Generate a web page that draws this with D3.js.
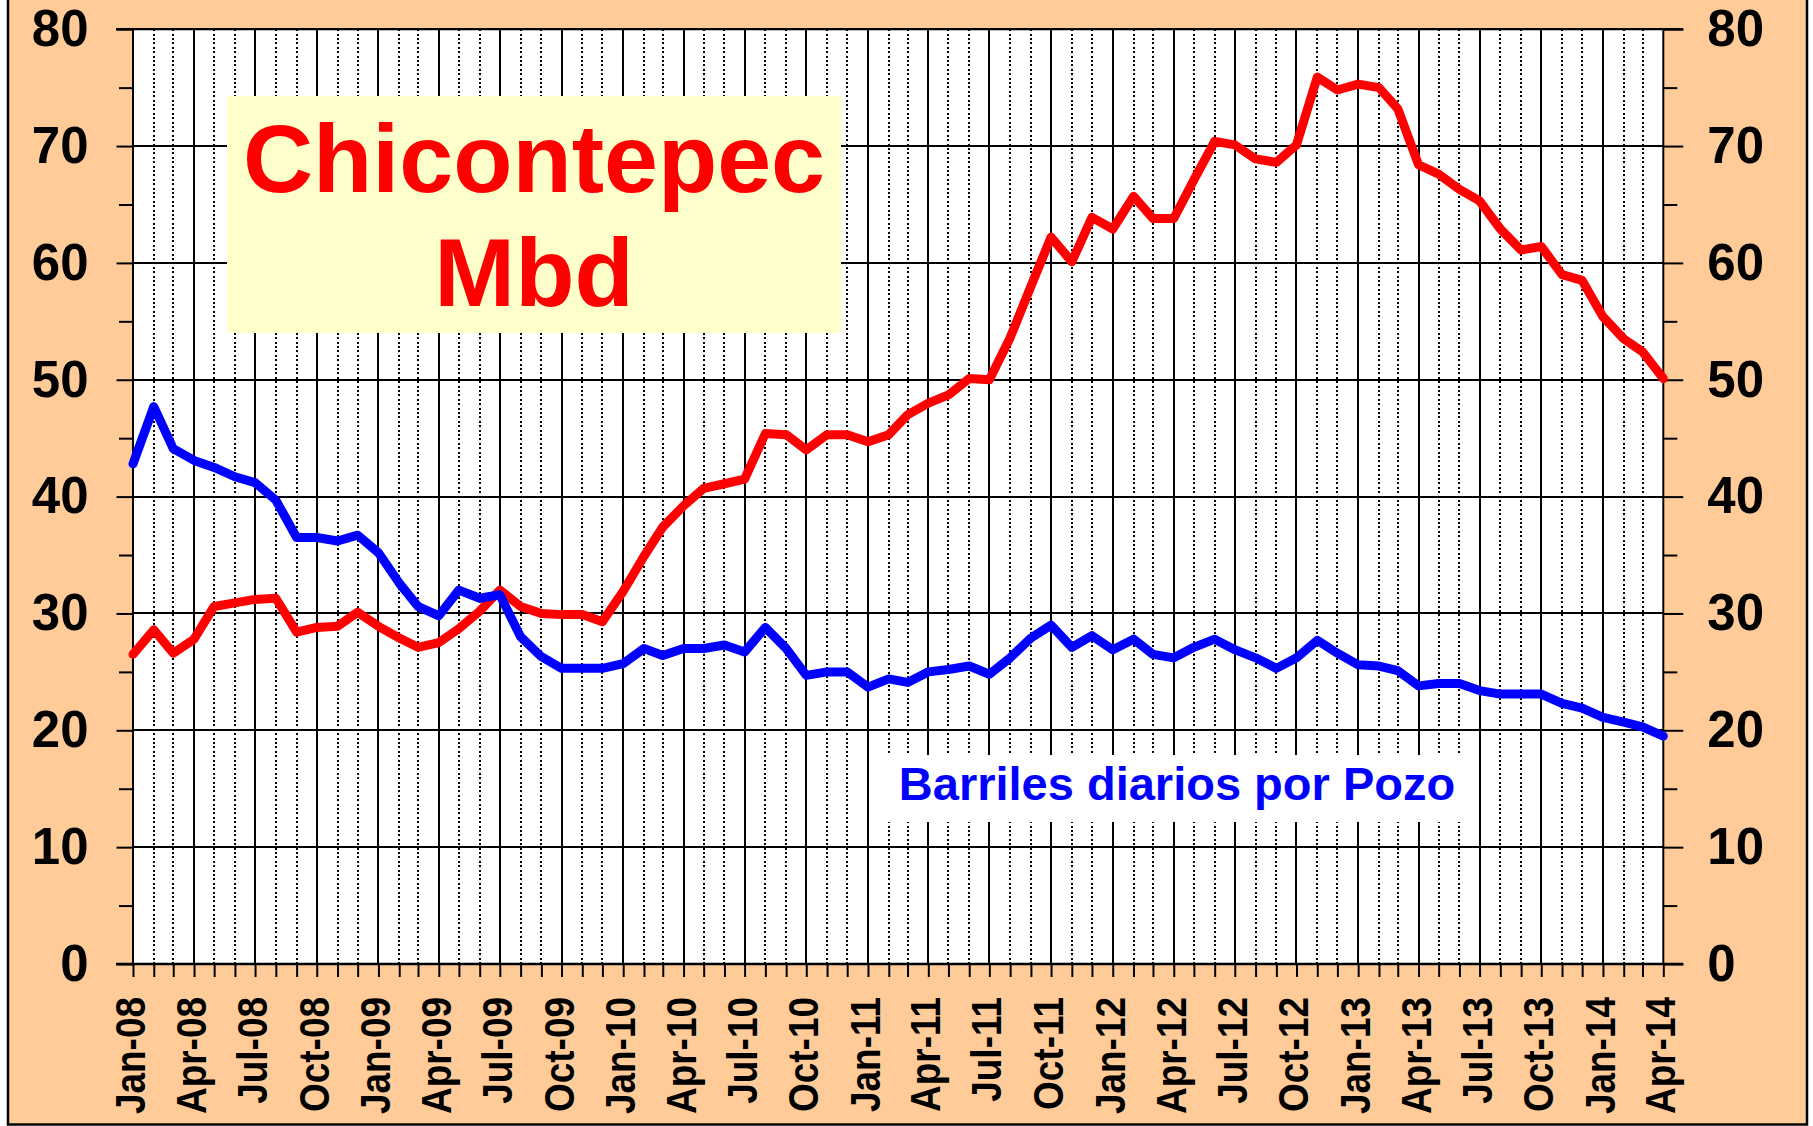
<!DOCTYPE html>
<html><head><meta charset="utf-8">
<script src="https://cdn.jsdelivr.net/npm/d3@7"></script>
<style>body{margin:0;background:#fff}svg{display:block}</style>
</head><body><svg id="c" width="1813" height="1126"></svg>
<script>
// ---- data ----
const months = [
 "2008-01","2008-02","2008-03","2008-04","2008-05","2008-06","2008-07","2008-08","2008-09","2008-10","2008-11","2008-12",
 "2009-01","2009-02","2009-03","2009-04","2009-05","2009-06","2009-07","2009-08","2009-09","2009-10","2009-11","2009-12",
 "2010-01","2010-02","2010-03","2010-04","2010-05","2010-06","2010-07","2010-08","2010-09","2010-10","2010-11","2010-12",
 "2011-01","2011-02","2011-03","2011-04","2011-05","2011-06","2011-07","2011-08","2011-09","2011-10","2011-11","2011-12",
 "2012-01","2012-02","2012-03","2012-04","2012-05","2012-06","2012-07","2012-08","2012-09","2012-10","2012-11","2012-12",
 "2013-01","2013-02","2013-03","2013-04","2013-05","2013-06","2013-07","2013-08","2013-09","2013-10","2013-11","2013-12",
 "2014-01","2014-02","2014-03","2014-04"];
// Barriles diarios por Pozo (blue)
const pozo = [
 42.8,47.7,44.1,43.1,42.5,41.7,41.2,39.7,36.5,36.5,36.2,36.7,
 35.2,32.6,30.6,29.8,32.0,31.3,31.6,28.0,26.3,25.3,25.3,25.3,
 25.7,27.0,26.4,27.0,27.0,27.3,26.7,28.8,27.0,24.7,25.0,25.0,
 23.7,24.4,24.1,25.0,25.2,25.5,24.8,26.2,27.9,29.0,27.1,28.1,
 26.9,27.8,26.5,26.2,27.1,27.8,26.9,26.2,25.3,26.2,27.7,26.6,
 25.6,25.5,25.1,23.8,24.0,24.0,23.4,23.1,23.1,23.1,22.3,21.9,
 21.1,20.7,20.3,19.5];
// Chicontepec Mbd (red)
const mbd = [
 26.5,28.6,26.6,27.8,30.6,30.9,31.2,31.3,28.4,28.8,28.9,30.1,
 28.9,27.9,27.1,27.5,28.7,30.2,32.0,30.6,30.0,29.9,29.9,29.3,
 31.9,34.9,37.4,39.2,40.7,41.1,41.5,45.4,45.3,44.0,45.3,45.3,
 44.7,45.3,47.0,48.0,48.7,50.1,50.0,53.6,58.0,62.2,60.1,63.9,
 62.9,65.7,63.8,63.8,67.1,70.4,70.1,68.9,68.6,70.1,75.9,74.8,
 75.3,75.0,73.2,68.4,67.6,66.3,65.3,62.9,61.1,61.4,59.0,58.5,
 55.4,53.5,52.4,50.1];
const xTickLabels = ["Jan-08","Apr-08","Jul-08","Oct-08","Jan-09","Apr-09","Jul-09","Oct-09",
 "Jan-10","Apr-10","Jul-10","Oct-10","Jan-11","Apr-11","Jul-11","Oct-11","Jan-12","Apr-12",
 "Jul-12","Oct-12","Jan-13","Apr-13","Jul-13","Oct-13","Jan-14","Apr-14"];
const yTicks = [0,10,20,30,40,50,60,70,80];
const yMinorTicks = [5,15,25,35,45,55,65,75];
const titleLines = ["Chicontepec","Mbd"];
const legendLabel = "Barriles diarios por Pozo";

// ---- layout ----
const FONT = "'Liberation Sans', Arial, Helvetica, sans-serif";
const L = 133, R = 1663.3, T = 29.2, B = 964;
const dates = months.map(d3.timeParse("%Y-%m"));
const tickDates = xTickLabels.map(d3.timeParse("%b-%y"));
const x = d3.scaleTime().domain([dates[0], dates[dates.length-1]]).range([L, R]);
const y = d3.scaleLinear().domain([0, 80]).range([B, T]);

const svg = d3.select("#c");
svg.append("rect").attr("x",8).attr("y",-10).attr("width",1799).attr("height",1134.5)
  .attr("fill","#FFCC99").attr("stroke","#000").attr("stroke-width",2.5);
svg.append("rect").attr("x",L).attr("y",T).attr("width",R-L).attr("height",B-T).attr("fill","#fff");

// vertical grid (solid at quarters, dotted other months)
const inner = dates.slice(1, -1);
svg.append("g").attr("shape-rendering","crispEdges").selectAll("line").data(inner).join("line")
  .attr("x1", d => Math.round(x(d))).attr("x2", d => Math.round(x(d)))
  .attr("y1", T + (0)).attr("y2", B)
  .attr("stroke", "#000")
  .attr("stroke-width", d => d.getMonth() % 3 === 0 ? 2 : 2)
  .attr("stroke-dasharray", d => d.getMonth() % 3 === 0 ? null : "2,2.4");

// horizontal grid
svg.append("g").attr("shape-rendering","crispEdges").selectAll("line").data(yTicks.slice(1, -1)).join("line")
  .attr("x1", L).attr("x2", R).attr("y1", d => Math.round(y(d))).attr("y2", d => Math.round(y(d)))
  .attr("stroke", "#000").attr("stroke-width", 2);

// title box
svg.append("rect").attr("x",227).attr("y",96).attr("width",614).attr("height",237).attr("fill","#FFFFCC");
svg.append("g").selectAll("text").data(titleLines).join("text")
  .attr("x", 534).attr("y", (d,i) => 192 + i*114)
  .attr("text-anchor","middle").attr("font-family",FONT).attr("font-weight","bold")
  .attr("font-size", 97).attr("fill","#FF0000").text(d => d);

// legend box (between Jan-11 and Jul-13 gridlines)
const lx0 = Math.round(x(new Date(2011,0,1))) + 1, lx1 = Math.round(x(new Date(2013,6,1))) - 1;
svg.append("rect").attr("x",lx0).attr("y",755).attr("width",lx1-lx0).attr("height",67).attr("fill","#fff");
svg.append("text").attr("x",1177).attr("y",799.5).attr("text-anchor","middle")
  .attr("font-family",FONT).attr("font-weight","bold").attr("font-size",47)
  .attr("fill","#0000FF").text(legendLabel);

// plot frame
svg.append("line").attr("x1",L).attr("x2",L).attr("y1",T).attr("y2",B).attr("stroke","#000").attr("stroke-width",2);
svg.append("line").attr("x1",R).attr("x2",R).attr("y1",T).attr("y2",B).attr("stroke","#000").attr("stroke-width",2);
svg.append("line").attr("x1",L-17).attr("x2",R+20).attr("y1",T).attr("y2",T).attr("stroke","#000").attr("stroke-width",2.2);

// axes
const styleAxis = g => {
  g.select(".domain").remove();
  g.selectAll(".tick line").attr("stroke","#000").attr("stroke-width",2);
  g.selectAll(".tick text").attr("font-family",FONT).attr("font-weight","bold")
    .attr("font-size",51).attr("fill","#000");
};
svg.append("g").attr("transform",`translate(${L},0)`)
  .call(d3.axisLeft(y).tickValues(yTicks).tickSize(16.5).tickPadding(28).tickFormat(d3.format("d")))
  .call(styleAxis);
svg.append("g").attr("transform",`translate(${L},0)`)
  .call(d3.axisLeft(y).tickValues(yMinorTicks).tickSize(14).tickFormat(""))
  .call(styleAxis);
svg.append("g").attr("transform",`translate(${R},0)`)
  .call(d3.axisRight(y).tickValues(yTicks).tickSize(20).tickPadding(24).tickFormat(d3.format("d")))
  .call(styleAxis);
svg.append("g").attr("transform",`translate(${R},0)`)
  .call(d3.axisRight(y).tickValues(yMinorTicks).tickSize(14).tickFormat(""))
  .call(styleAxis);

svg.append("g").attr("transform",`translate(0,${B})`)
  .call(d3.axisBottom(x).tickValues(dates).tickSize(13).tickFormat(""))
  .call(styleAxis);
svg.append("line").attr("x1",L-17).attr("x2",R+20).attr("y1",B).attr("y2",B).attr("stroke","#000").attr("stroke-width",2.6);

svg.append("g").selectAll("text").data(tickDates).join("text")
  .attr("transform", (d) => `translate(${x(d)+12},997) rotate(-90) scale(0.88,1)`)
  .attr("text-anchor","end").attr("font-family",FONT).attr("font-weight","bold")
  .attr("font-size",42).attr("fill","#000")
  .text((d,i) => xTickLabels[i]);

// series
const line = d3.line().x((d,i) => x(dates[i])).y(d => y(d));
svg.append("path").datum(mbd).attr("d", line).attr("fill","none")
  .attr("stroke","#FF0000").attr("stroke-width",9).attr("stroke-linejoin","round").attr("stroke-linecap","round");
svg.append("path").datum(pozo).attr("d", line).attr("fill","none")
  .attr("stroke","#0000FF").attr("stroke-width",9).attr("stroke-linejoin","round").attr("stroke-linecap","round");
</script></body></html>
